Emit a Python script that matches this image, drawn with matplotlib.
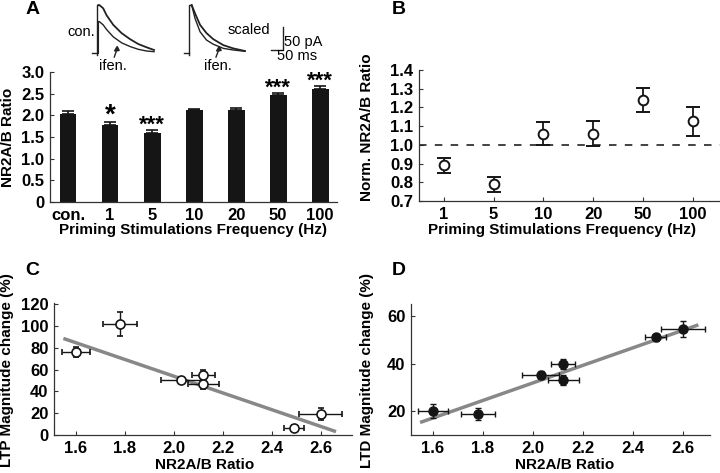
import numpy as np
import matplotlib
matplotlib.use("Agg")
import matplotlib.pyplot as plt

plt.rcParams['font.family'] = ['Liberation Sans', 'DejaVu Sans']
plt.rcParams['font.size'] = 10

# Panel A: NR2A/B ratio after priming
bar_labels = ["con.", "1", "5", "10", "20", "50", "100"]
bar_ratio = [2.03, 1.78, 1.60, 2.12, 2.12, 2.48, 2.60]
bar_err = [0.07, 0.07, 0.05, 0.03, 0.05, 0.03, 0.08]
bar_stars = ["", "*", "***", "", "", "***", "***"]
a_yticks = [0, 0.5, 1.0, 1.5, 2.0, 2.5, 3.0]
a_yticklabels = ["0", "0.5", "1.0", "1.5", "2.0", "2.5", "3.0"]

# example EPSC traces (time in ms, current in pA)
con_t = [10, 26, 40, 68, 103, 138, 172, 207, 238]
con_i = [104, 97, 82, 61, 43, 30, 19.5, 12.3, 6.5]
ifen_t = [10, 26, 40, 68, 103, 138, 172, 207, 238]
ifen_i = [68, 61, 51, 35, 22, 14, 8, 4.3, 2.8]
con2_t = [395, 409, 430, 457, 485, 527, 568, 617]
con2_i = [104, 86, 61, 43, 30, 17, 10, 4.3]
ifen2_t = [395, 409, 430, 457, 485, 527, 568, 617]
ifen2_i = [104, 75, 46, 28, 19, 10, 6.5, 3.7]

# Panel B: normalised ratio
freq_labels = ["1", "5", "10", "20", "50", "100"]
norm_ratio = [0.89, 0.79, 1.06, 1.06, 1.24, 1.125]
norm_err = [0.04, 0.04, 0.062, 0.067, 0.064, 0.076]

# Panels C and D: magnitude vs ratio
ratio_x = [1.60, 1.78, 2.03, 2.12, 2.12, 2.49, 2.60]
ltp_xerr = [0.059, 0.071, 0.085, 0.048, 0.063, 0.041, 0.088]
ltp_y = [76, 101.8, 50.8, 55, 46.8, 6.7, 19.3]
ltp_yerr = [4.6, 11.3, 2.8, 4.9, 4.9, 2.3, 5.7]
ltp_fit_x = [1.555, 2.655]
ltp_fit_y = [88, 3.6]

ltd_xerr = [0.06, 0.069, 0.073, 0.047, 0.062, 0.041, 0.087]
ltd_y = [20.1, 18.7, 35.2, 39.8, 33.1, 51.0, 54.4]
ltd_yerr = [2.8, 2.6, 1.5, 1.9, 2.3, 1.6, 3.3]
ltd_fit_x = [1.555, 2.655]
ltd_fit_y = [15.5, 56.0]

W, H = 720, 473
fig = plt.figure(figsize=(7.2, 4.73), dpi=100)


def rect(l, t, r, b):
    return [l / W, 1 - b / H, (r - l) / W, (b - t) / H]


def ftext(x, y, s, **kw):
    fig.text(x / W, 1 - y / H, s, **kw)


def style(ax):
    for s in ["top", "right"]:
        ax.spines[s].set_visible(False)
    for s in ["left", "bottom"]:
        ax.spines[s].set_linewidth(0.9)
        ax.spines[s].set_color("#333333")
    ax.tick_params(direction="in", length=3, width=0.8, color="#333333",
                   labelsize=12, pad=4)
    for lab in ax.get_xticklabels() + ax.get_yticklabels():
        lab.set_fontweight("bold")


lbl = dict(fontsize=11, fontweight="bold", ha="center", va="center")
panel = dict(fontsize=14, fontweight="bold", ha="left", va="center")

# ---- A ----
axA = fig.add_axes(rect(50, 72, 337, 202))
xa = np.arange(len(bar_ratio))
axA.bar(xa, bar_ratio, width=0.4, color="#151515")
axA.errorbar(xa, bar_ratio, yerr=[np.zeros(len(bar_err)), bar_err], fmt="none",
             ecolor="#151515", elinewidth=1.2, capsize=4, capthick=1.2)
for x, v, e, s in zip(xa, bar_ratio, bar_err, bar_stars):
    if s:
        fs = 20 if len(s) == 1 else 16
        axA.annotate(s, (x, v + e), xytext=(0, -5 if len(s) == 1 else -4),
                     textcoords="offset points", ha="center", va="bottom",
                     fontsize=fs, fontweight="bold")
axA.set_xlim(-0.43, 6.4)
axA.set_ylim(0, 3)
axA.set_xticks(xa)
axA.set_xticklabels(bar_labels)
axA.set_yticks(a_yticks)
axA.set_yticklabels(a_yticklabels)
style(axA)
axA.tick_params(axis="x", length=0)
ftext(26, 9, "A", **panel)
ftext(8, 137, "NR2A/B Ratio", rotation=90, **lbl)
ftext(193, 230, "Priming Stimulations Frequency (Hz)", **lbl)

# traces inset
axT = fig.add_axes(rect(90, 3, 290, 58))
axT.set_xlim(-29, 805)
axT.set_ylim(-10.9, 108.5)
axT.axis("off")
axT.plot([-20, 0], [0, 0], color="#222222", lw=1)
axT.plot([0, 0, 6], [-4, 104, 104], color="#222222", lw=1)
axT.plot([6] + con_t, [104] + con_i, color="#222222", lw=1.3)
axT.plot([6] + ifen_t, [68] + ifen_i, color="#222222", lw=1)
axT.plot([6, 6], [0, 68], color="#222222", lw=0.8)
axT.plot([365, 385], [0, 0], color="#222222", lw=1)
axT.plot([385, 385, 392], [-4, 104, 104], color="#222222", lw=1)
axT.plot(con2_t, con2_i, color="#222222", lw=1.3)
axT.plot(ifen2_t, ifen2_i, color="#222222", lw=1)
axT.plot([724, 774, 774], [6.5, 6.5, 56.5], color="#222222", lw=1)
ftext(95, 32, "con.", fontsize=10.5, ha="right", va="center")
ftext(113, 66, "ifen.", fontsize=10.5, ha="center", va="center")
ftext(218, 66, "ifen.", fontsize=10.5, ha="center", va="center")
ftext(228, 30, "scaled", fontsize=10.5, ha="left", va="center")
ftext(284, 42, "50 pA", fontsize=10.5, ha="left", va="center")
ftext(277, 56, "50 ms", fontsize=10.5, ha="left", va="center")
for x0, x1 in [(114.3, 116.7), (216, 218.7)]:
    fig.add_artist(plt.Line2D([x0 / W, x1 / W], [1 - 57 / H, 1 - 50 / H],
                              color="#222222", lw=1))
    fig.add_artist(plt.Polygon([[x1 / W - 0.003, 1 - 51 / H],
                                [x1 / W + 0.0035, 1 - 50.5 / H],
                                [(x1 + 0.5) / W, 1 - 46.5 / H]],
                               color="#222222"))

# ---- B ----
axB = fig.add_axes(rect(419, 70, 720, 201))
xb = np.arange(len(norm_ratio))
axB.axhline(1.0, color="#222222", lw=1.2, ls=(0, (4.5, 5)))
axB.errorbar(xb, norm_ratio, yerr=norm_err, fmt="o", ms=7, mfc="white",
             mec="#151515", mew=1.4, ecolor="#151515", elinewidth=1.3,
             capsize=5, capthick=1.3)
axB.set_xlim(-0.5, 5.55)
axB.set_ylim(0.7, 1.4)
axB.set_xticks(xb)
axB.set_xticklabels(freq_labels)
axB.set_yticks(np.arange(0.7, 1.41, 0.1))
axB.set_yticklabels(["%.1f" % v for v in np.arange(0.7, 1.41, 0.1)])
style(axB)
ftext(392, 9, "B", **panel)
ftext(367, 127, "Norm. NR2A/B Ratio", rotation=90, **lbl)
ftext(562, 230, "Priming Stimulations Frequency (Hz)", **lbl)

# ---- C ----
axC = fig.add_axes(rect(54, 303, 352, 435))
axC.plot(ltp_fit_x, ltp_fit_y, color="#888888", lw=2.5, zorder=1)
axC.errorbar(ratio_x, ltp_y, xerr=ltp_xerr, yerr=ltp_yerr, fmt="o", ms=6.5,
             mfc="white", mec="#151515", mew=1.2, ecolor="#151515",
             elinewidth=1.0, capsize=2.5, capthick=1.0, zorder=2)
axC.set_xlim(1.51, 2.727)
axC.set_ylim(0, 121)
axC.set_xticks([1.6, 1.8, 2.0, 2.2, 2.4, 2.6])
axC.set_xticklabels(["1.6", "1.8", "2.0", "2.2", "2.4", "2.6"])
axC.set_yticks(range(0, 121, 20))
style(axC)
ftext(25, 270, "C", **panel)
ftext(7, 370, "LTP Magnitude change (%)", rotation=90, **lbl)
ftext(205, 465, "NR2A/B Ratio", **lbl)

# ---- D ----
axD = fig.add_axes(rect(411, 304, 710, 435))
axD.plot(ltd_fit_x, ltd_fit_y, color="#888888", lw=2.5, zorder=1)
axD.errorbar(ratio_x, ltd_y, xerr=ltd_xerr, yerr=ltd_yerr, fmt="o", ms=6.5,
             mfc="#151515", mec="#151515", ecolor="#151515",
             elinewidth=1.0, capsize=2.5, capthick=1.0, zorder=2)
axD.set_xlim(1.512, 2.708)
axD.set_ylim(10, 65)
axD.set_xticks([1.6, 1.8, 2.0, 2.2, 2.4, 2.6])
axD.set_xticklabels(["1.6", "1.8", "2.0", "2.2", "2.4", "2.6"])
axD.set_yticks([20, 40, 60])
style(axD)
ftext(392, 270, "D", **panel)
ftext(367, 370, "LTD Magnitude change (%)", rotation=90, **lbl)
ftext(565, 465, "NR2A/B Ratio", **lbl)

fig.savefig("out.png", dpi=100)
